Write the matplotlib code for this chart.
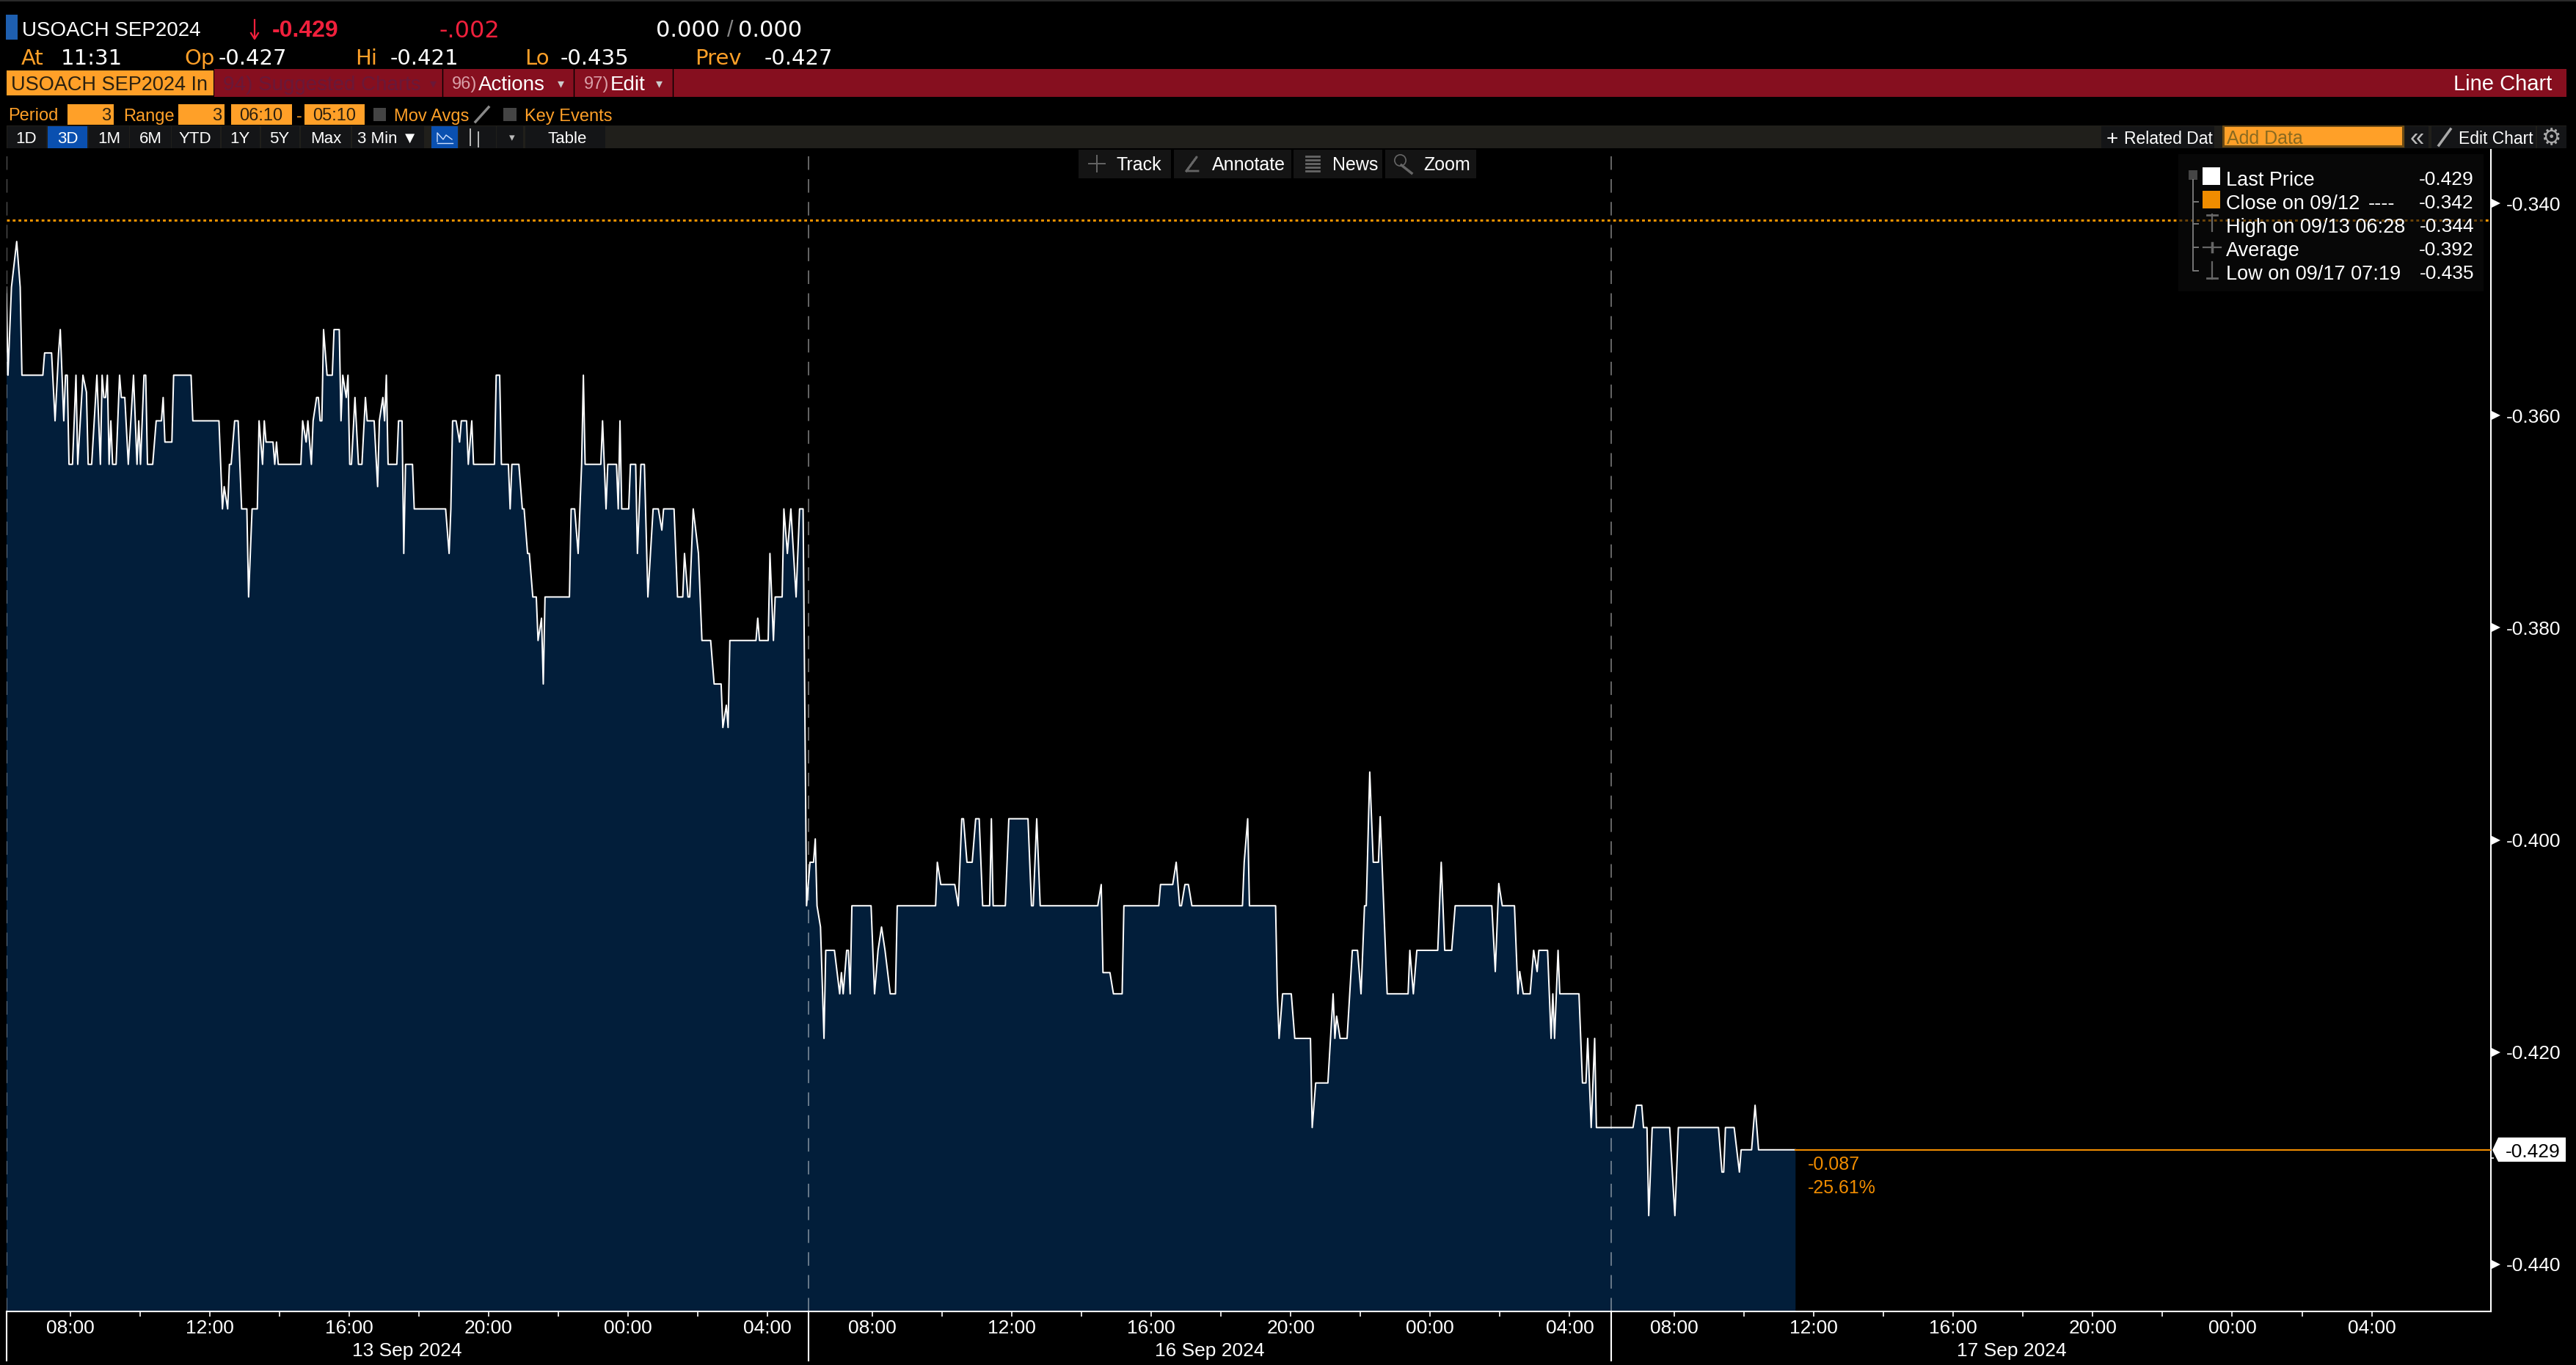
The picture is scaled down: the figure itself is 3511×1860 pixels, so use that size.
import matplotlib
matplotlib.use("Agg")
import matplotlib.pyplot as plt
from matplotlib.patches import Polygon, Rectangle

plt.rcParams['font.family'] = ['Liberation Sans', 'DejaVu Sans']

W, H = 3512, 1860

# (3 minute bar since 13 Sep 06:10, last price)
session1 = [
    (0, -.3479), (1, -.3562), (3, -.3479), (6, -.3436), (8, -.3479), (9, -.3562), (21, -.3562), (22, -.3541),
    (26, -.3541), (28, -.3605), (30, -.3541), (31, -.3519), (33, -.3605), (34, -.3562), (35, -.3562), (36, -.3646),
    (38, -.3646), (40, -.3562), (41, -.3646), (44, -.3562), (46, -.3578), (47, -.3646), (49, -.3646), (52, -.3562),
    (54, -.3646), (55, -.3562), (56, -.3583), (57, -.3583), (58, -.3562), (59, -.3646), (60, -.3605), (61, -.3646),
    (63, -.3646), (65, -.3562), (66, -.3583), (68, -.3583), (70, -.3646), (73, -.3562), (75, -.3646), (76, -.3605),
    (77, -.3646), (79, -.3562), (80, -.3562), (81, -.3646), (84, -.3646), (86, -.3605), (89, -.3605), (90, -.3583),
    (91, -.3625), (95, -.3625), (96, -.3562), (106, -.3562), (107, -.3605), (122, -.3605), (124, -.3688), (125, -.3667),
    (127, -.3688), (128, -.3646), (129, -.3646), (131, -.3605), (133, -.3605), (135, -.3688), (138, -.3688), (139, -.3771),
    (141, -.3688), (144, -.3688), (145, -.3605), (147, -.3646), (148, -.3605), (149, -.3625), (153, -.3625), (154, -.3646),
    (155, -.3625), (156, -.3646), (169, -.3646), (170, -.3605), (172, -.3625), (173, -.3605), (175, -.3646), (176, -.3605),
    (178, -.3583), (179, -.3583), (180, -.3605), (181, -.3605), (182, -.3519), (184, -.3562), (187, -.3562), (188, -.3519),
    (191, -.3519), (192, -.3605), (193, -.3562), (195, -.3583), (196, -.3562), (197, -.3646), (198, -.3646), (200, -.3583),
    (202, -.3646), (204, -.3646), (206, -.3583), (207, -.3605), (211, -.3605), (213, -.3667), (214, -.3605), (216, -.3583),
    (217, -.3605), (218, -.3562), (219, -.3646), (224, -.3646), (225, -.3605), (227, -.3605), (228, -.3730), (229, -.3646),
    (233, -.3646), (234, -.3688), (252, -.3688), (254, -.3730), (255, -.3688), (256, -.3605), (258, -.3605), (260, -.3625),
    (261, -.3605), (264, -.3605), (265, -.3646), (267, -.3605), (268, -.3646), (280, -.3646), (281, -.3562), (283, -.3562),
    (284, -.3646), (288, -.3646), (289, -.3688), (290, -.3646), (294, -.3646), (296, -.3688), (297, -.3688), (299, -.3730),
    (300, -.3730), (302, -.3771), (304, -.3771), (305, -.3812), (307, -.3791), (308, -.3853), (309, -.3771), (323, -.3771),
    (324, -.3688), (326, -.3688), (328, -.3730), (330, -.3646), (331, -.3562), (332, -.3646), (341, -.3646), (342, -.3605),
    (343, -.3646), (344, -.3688), (345, -.3646), (350, -.3646), (351, -.3688), (352, -.3605), (353, -.3688), (357, -.3688),
    (358, -.3646), (361, -.3646), (362, -.3730), (364, -.3646), (366, -.3646), (368, -.3771), (371, -.3688), (374, -.3688),
    (376, -.3708), (377, -.3688), (383, -.3688), (385, -.3771), (388, -.3771), (389, -.3730), (391, -.3771), (392, -.3771),
    (394, -.3688), (397, -.3730), (399, -.3812), (404, -.3812), (406, -.3853), (410, -.3853), (411, -.3894), (413, -.3873),
    (414, -.3894), (415, -.3812), (430, -.3812), (431, -.3791), (432, -.3812), (437, -.3812), (438, -.3730), (440, -.3812),
    (441, -.3771), (445, -.3771), (446, -.3688), (448, -.3730), (450, -.3688), (453, -.3771), (455, -.3688), (457, -.3688),
]
session2 = [
    (459, -.4062), (461, -.4021), (463, -.4021), (464, -.3999), (465, -.4062), (467, -.4082), (469, -.4187), (470, -.4104),
    (475, -.4104), (478, -.4145), (479, -.4125), (480, -.4145), (482, -.4104), (483, -.4104), (484, -.4145), (485, -.4062),
    (496, -.4062), (498, -.4145), (500, -.4104), (502, -.4082), (504, -.4104), (507, -.4145), (510, -.4145), (511, -.4062),
    (533, -.4062), (534, -.4021), (536, -.4042), (544, -.4042), (546, -.4062), (548, -.3980), (549, -.3980), (551, -.4021),
    (554, -.4021), (556, -.3980), (558, -.3980), (560, -.4062), (564, -.4062), (565, -.3980), (566, -.4062), (573, -.4062),
    (575, -.3980), (586, -.3980), (588, -.4062), (589, -.4062), (591, -.3980), (593, -.4062), (626, -.4062), (628, -.4042),
    (629, -.4125), (633, -.4125), (635, -.4145), (640, -.4145), (641, -.4062), (661, -.4062), (662, -.4042), (669, -.4042),
    (671, -.4021), (673, -.4062), (674, -.4062), (676, -.4042), (678, -.4042), (680, -.4062), (709, -.4062), (710, -.4021),
    (712, -.3980), (713, -.4062), (728, -.4062), (729, -.4145), (730, -.4187), (732, -.4145), (737, -.4145), (739, -.4187),
    (748, -.4187), (749, -.4271), (751, -.4229), (758, -.4229), (761, -.4145), (762, -.4187), (763, -.4166), (765, -.4187),
    (769, -.4187), (772, -.4104), (775, -.4104), (777, -.4145), (779, -.4062), (780, -.4062), (782, -.3936), (784, -.4021),
    (787, -.4021), (788, -.3978), (790, -.4062), (792, -.4145), (804, -.4145), (805, -.4104), (807, -.4145), (809, -.4104),
    (821, -.4104), (823, -.4021), (825, -.4104), (829, -.4104), (831, -.4062), (852, -.4062), (854, -.4124), (856, -.4041),
    (858, -.4062), (865, -.4062), (867, -.4145), (868, -.4124), (870, -.4145), (874, -.4145), (876, -.4104), (878, -.4124),
    (879, -.4104), (884, -.4104), (886, -.4187), (887, -.4145), (888, -.4187), (890, -.4104), (891, -.4145), (902, -.4145),
    (904, -.4229), (906, -.4229), (907, -.4187), (909, -.4271), (911, -.4187),
]
session3 = [
    (912, -.4271), (933, -.4271), (935, -.4250), (938, -.4250), (939, -.4271), (941, -.4271), (942, -.4354), (944, -.4271),
    (954, -.4271), (957, -.4354), (959, -.4271), (982, -.4271), (984, -.4313), (985, -.4313), (986, -.4271), (991, -.4271),
    (994, -.4313), (995, -.4292), (1001, -.4292), (1003, -.4250), (1005, -.4292), (1026, -.4292),
]

bars_per_session = 460
session_starts = [0, 460, 920]
session_dates = ['13 Sep 2024', '16 Sep 2024', '17 Sep 2024']
xtick_labels = ['08:00', '12:00', '16:00', '20:00', '00:00', '04:00']
first_tick_bar = 110 / 3     # 08:00 is 110 minutes after the 06:10 open
bars_per_2h = 40
yticks = [-0.34, -0.36, -0.38, -0.40, -0.42, -0.44]
prev_close = -0.3416
last_price = -0.4292
legend_names = ['Last Price', 'Close on 09/12', 'High on 09/13 06:28', 'Average', 'Low on 09/17 07:19']
legend_values = ['-0.429', '-0.342', '-0.344', '-0.392', '-0.435']

ORANGE = '#ffa028'
LINE_ORANGE = '#f08c00'
RED = '#860f1f'
FILL = '#021e3a'
BAR = '#201f1b'
BTN = '#141517'
BLUE = '#0a50b0'
QUOTE_RED = '#f0203c'

fig = plt.figure(figsize=(W / 100, H / 100), dpi=100, facecolor='black')
ax = fig.add_axes([8.5 / W, 1 - 1787 / H, (3395 - 8.5) / W, (1787 - 204) / H], facecolor='black')


def px_text(x, y, s, color='white', size=19, ha='left', **kw):
    fig.text(x / W, 1 - y / H, s, color=color, fontsize=size, ha=ha, va='center_baseline', zorder=6, **kw)


def px_rect(x0, y0, x1, y1, color, alpha=1, z=2, **kw):
    fig.add_artist(Rectangle((x0 / W, 1 - y1 / H), (x1 - x0) / W, (y1 - y0) / H, transform=fig.transFigure,
                             facecolor=color, edgecolor='none', alpha=alpha, zorder=z, **kw))


def px_line(xs, ys, color='#777777', lw=1.4, z=5, **kw):
    fig.add_artist(plt.Line2D([x / W for x in xs], [1 - y / H for y in ys], transform=fig.transFigure,
                              color=color, lw=lw, zorder=z, **kw))


# the chart
pts = session1 + session2 + session3
bars = [p[0] for p in pts]
vals = [p[1] for p in pts]
ymin, ymax = -0.44443, -0.33495
ax.fill_between(bars, vals, ymin, color=FILL, lw=0, zorder=1)
ax.plot(bars, vals, color='white', lw=1.45, zorder=3)
ax.plot([bars[-1], 1425], [last_price, last_price], color=LINE_ORANGE, lw=1.5, zorder=3)
ax.axhline(prev_close, color='#ff9800', lw=2.1, linestyle=(0, (1.3, 1.4)), zorder=2)
for s in session_starts:
    ax.axvline(s + 0.3, color='white', alpha=0.4, lw=1.4, linestyle=(0, (9.5, 6.5)), zorder=2)
    ax.plot([s + 0.3, s + 0.3], [0, -0.0425], color='white', lw=1.5, clip_on=False,
            transform=ax.get_xaxis_transform(), zorder=4)

ax.set_xlim(0, 1425)
ax.set_ylim(ymin, ymax)

xt, xl = [], []
for s in session_starts:
    for k in range(11):
        b = s + first_tick_bar + k * bars_per_2h
        xt.append(b)
        xl.append(xtick_labels[k // 2] if k % 2 == 0 else '')
ax.set_xticks(xt)
ax.set_xticklabels(xl)
ax.tick_params(axis='x', colors='white', labelsize=19, length=5, width=1.2, pad=3)

ax.yaxis.tick_right()
ax.set_yticks(yticks)
ax.set_yticklabels(['%.3f' % y for y in yticks])
ax.set_yticks([-0.43], minor=True)
ax.tick_params(axis='y', which='major', colors='white', labelsize=19, length=0, pad=15)
ax.tick_params(axis='y', which='minor', colors='white', length=3, width=1.2)
ax.plot([1.0022] * len(yticks), yticks, '>', color='white', ms=9, mew=0, clip_on=False,
        transform=ax.get_yaxis_transform(), zorder=4)
for sp in ['top', 'left']:
    ax.spines[sp].set_visible(False)
for sp in ['right', 'bottom']:
    ax.spines[sp].set_color('white')
    ax.spines[sp].set_linewidth(1.5)
for s, d in zip(session_starts, session_dates):
    ax.text(s + bars_per_session / 2, -0.0325, d, color='white', fontsize=19, ha='center', va='center_baseline',
            transform=ax.get_xaxis_transform())

# last price tag
fig.add_artist(Polygon([(3397 / W, 1 - 1567 / H), (3405 / W, 1 - 1550 / H), (3497 / W, 1 - 1550 / H),
                        (3497 / W, 1 - 1583 / H), (3405 / W, 1 - 1583 / H)], closed=True, transform=fig.transFigure,
                       facecolor='white', edgecolor='none', zorder=5))
px_text(3415, 1567, '-0.429', color='black')
px_text(2464, 1584, '-0.087', color=LINE_ORANGE, size=18)
px_text(2464, 1616, '-25.61%', color=LINE_ORANGE, size=18)

# top strip and quote lines
px_rect(0, 0, W, 2, '#2a2a2a')
px_rect(8, 20, 24, 54, '#1e5fb0')
px_text(30, 39, 'USOACH SEP2024', size=20)
px_line([347, 347], [27, 52], color=QUOTE_RED, lw=1.6)
px_line([342, 347, 352], [45, 53, 45], color=QUOTE_RED, lw=1.6)
px_text(371, 39, '-0.429', color=QUOTE_RED, size=23, fontweight='bold')
px_text(599, 39, '-.002', color=QUOTE_RED, size=23, family='DejaVu Sans')
px_text(894, 39, '0.000', size=22, family='DejaVu Sans')
px_text(991, 39, '/', color='#888888', size=22)
px_text(1006, 39, '0.000', size=22, family='DejaVu Sans')
for x, s, c in [(29, 'At', ORANGE), (83, '11:31', 'white'), (251, 'Op', ORANGE), (298, '-0.427', 'white'),
                (484, 'Hi', ORANGE), (532, '-0.421', 'white'), (715, 'Lo', ORANGE), (764, '-0.435', 'white'),
                (947, 'Prev', ORANGE), (1042, '-0.427', 'white')]:
    px_text(x, 77, s, color=c, size=21, family='DejaVu Sans')

# red menu bar
px_rect(292, 94, 3498, 132, RED)
px_rect(9, 96, 291, 130, ORANGE)
px_text(15, 113, 'USOACH SEP2024 In', color='#2a2010', size=19.5)
px_text(304, 113, '94) Suggested Charts', color='#6a1838', size=20)
px_text(586, 113, '▾', color='#6a1838', size=13)
for x in [603, 782, 917]:
    px_line([x, x], [94, 132], color='black', lw=1)
px_text(616, 113, '96)', color='#d9a0a8', size=17)
px_text(652, 113, 'Actions', size=20)
px_text(760, 113, '▾', color='#cccccc', size=13)
px_text(796, 113, '97)', color='#d9a0a8', size=17)
px_text(832, 113, 'Edit', size=20)
px_text(894, 113, '▾', color='#cccccc', size=13)
px_text(3478, 112, 'Line Chart', size=21, ha='right')

# period row
px_text(11, 156, 'Period', color=ORANGE, size=17)
px_rect(92, 142, 155, 170, ORANGE)
px_text(151, 156, '3', color='#2a2010', size=17, ha='right')
px_text(168, 156, 'Range', color=ORANGE, size=17)
px_rect(243, 142, 306, 170, ORANGE)
px_text(302, 156, '3', color='#2a2010', size=17, ha='right')
px_rect(315, 142, 398, 170, ORANGE)
px_text(356, 156, '06:10', color='#2a2010', size=17, ha='center')
px_text(408, 156, '-', color=ORANGE, size=17, ha='center')
px_rect(415, 142, 497, 170, ORANGE)
px_text(456, 156, '05:10', color='#2a2010', size=17, ha='center')
px_rect(509, 147, 526, 165, '#444444')
px_text(537, 156, 'Mov Avgs', color=ORANGE, size=17)
px_line([648, 666], [166, 146], color='#888888', lw=2.5)
px_rect(686, 147, 704, 165, '#444444')
px_text(715, 156, 'Key Events', color=ORANGE, size=17)

# range buttons row
px_rect(9, 171, 3498, 202, BAR)
for x0, x1 in [(10, 63), (121, 176), (177, 233), (234, 300), (302, 354), (356, 408), (410, 478), (480, 578),
               (626, 676), (677, 713), (716, 825)]:
    px_rect(x0, 172, x1, 202, BTN, z=3)
px_rect(65, 172, 119, 202, BLUE, z=3)
px_rect(588, 172, 624, 202, BLUE, z=3)
for x, s in [(36, '1D'), (92, '3D'), (149, '1M'), (205, '6M'), (266, 'YTD'), (327, '1Y'), (381, '5Y'), (444, 'Max'),
             (528, '3 Min ▼'), (773, 'Table')]:
    px_text(x, 187, s, size=16, ha='center')
px_line([596, 596, 604, 608, 616], [193, 181, 190, 184, 190], color='#cfe0ff', lw=1)
px_line([596, 617], [195, 195], color='#cfe0ff', lw=1)
px_line([641, 641], [176, 198], color='#bbbbbb', lw=1.4)
px_line([652, 652], [180, 200], color='#bbbbbb', lw=1.4)
px_text(698, 187, '▾', color='#bbbbbb', size=11, ha='center')

px_rect(2864, 172, 3018, 202, BTN, z=3)
px_text(2871, 187, '+', size=20)
px_text(2895, 187, 'Related Dat', size=16.5)
px_rect(3029, 171, 3277, 201, '#6b4a14', z=3)
px_rect(3032, 173, 3274, 198, ORANGE, z=3)
px_text(3035, 187, 'Add Data', color='#8a6a20', size=18)
px_rect(3278, 172, 3310, 202, BTN, z=3)
px_text(3294, 185, '«', color='#bbbbbb', size=25, ha='center')
px_rect(3314, 172, 3456, 202, BTN, z=3)
px_line([3324, 3340], [198, 176], color='#aaaaaa', lw=2.5)
px_text(3351, 187, 'Edit Chart', size=16.5)
px_rect(3458, 172, 3498, 202, BTN, z=3)
px_text(3477, 186, '⚙', color='#aaaaaa', size=22, ha='center')

# floating chart tools
for x0, x1 in [(1470, 1596), (1600, 1760), (1763, 1884), (1888, 2012)]:
    px_rect(x0, 204, x1, 243, '#141414', z=3)
for x, s in [(1522, 'Track'), (1652, 'Annotate'), (1816, 'News'), (1940, 'Zoom')]:
    px_text(x, 223, s, size=18)
px_line([1495, 1495], [212, 234], color='#666666')
px_line([1484, 1506], [223, 223], color='#666666')
px_line([1617, 1631, 1617, 1633], [233, 214, 233, 233], color='#666666', lw=2)
for y in [213, 218, 223, 228, 233]:
    px_line([1780, 1798], [y, y], color='#666666', lw=2)
px_line([1910, 1924], [225, 236], color='#666666', lw=2.5)
fig.add_artist(plt.Line2D([1908 / W], [1 - 218 / H], marker='o', ms=11, mfc='none', mec='#666666', mew=1.2,
                          transform=fig.transFigure, zorder=5))

# legend panel, drawn over the dotted close line so that line shows dimmed
px_rect(2969, 210, 3385, 397, '#0d0d0d', alpha=0.6, z=4)
rows_y = [243, 275, 307, 339, 371]
for y, name, val in zip(rows_y, legend_names, legend_values):
    px_text(3034, y, name, size=19.5)
    px_text(3372, y, val, size=19, ha='right')
px_text(3228, 275, '----', size=19.5)
px_rect(3002, 228, 3026, 252, 'white', z=5)
px_rect(3002, 260, 3026, 284, LINE_ORANGE, z=5)
px_rect(2983, 232, 2995, 245, '#555555', alpha=0.8, z=5)
px_line([2989, 2989, 2996], [245, 369, 369])
for y in [275, 305, 337]:
    px_line([2989, 2996], [y, y])
px_line([3015, 3015], [292, 315], color='#666666', lw=1.6)
px_line([3008, 3022], [293, 293], color='#666666', lw=2)
px_line([3003, 3027], [337, 337], color='#666666', lw=1.6)
px_line([3015, 3015], [331, 343], color='#666666', lw=2.5)
px_line([3015, 3015], [357, 380], color='#666666', lw=1.6)
px_line([3008, 3022], [379, 379], color='#666666', lw=2)

fig.savefig('out.png', dpi=100, facecolor='black')
